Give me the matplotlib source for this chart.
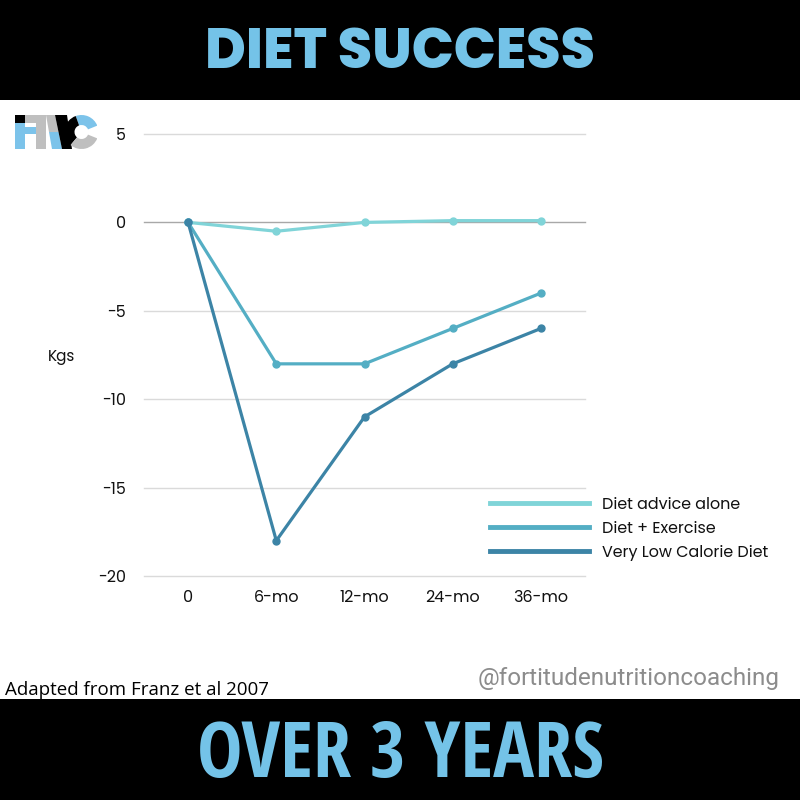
import matplotlib
matplotlib.use("Agg")
import matplotlib.pyplot as plt
from matplotlib import font_manager as fm
from matplotlib.patches import Rectangle, Polygon, Wedge

categories = ["0", "6-mo", "12-mo", "24-mo", "36-mo"]
diet_advice = [0, -0.5, 0, 0.1, 0.1]
diet_exercise = [0, -8, -8, -6, -4]
vlcd = [0, -18, -11, -8, -6]
series_labels = ["Diet advice alone", "Diet + Exercise", "Very Low Calorie Diet"]
y_ticks = [5, 0, -5, -10, -15, -20]
colors = ["#80D4D8", "#54AEC4", "#3C84A6"]

_wmap = {"normal": 400, "regular": 400, "bold": 700, "medium": 500, "light": 300,
         "black": 900, "heavy": 900, "semibold": 600, "extra bold": 800}

def _w(f):
    w = f.weight
    if isinstance(w, str):
        return _wmap.get(w.lower(), 400)
    return int(w)

def pick(cands, lo=0, hi=1000):
    for c in cands:
        for f in fm.fontManager.ttflist:
            if f.name == c and lo <= _w(f) <= hi:
                return c
    return "DejaVu Sans"

title_font = pick(["League Spartan", "Montserrat", "Poppins", "Lato"], 700)
cond_font = pick(["Open Sans Condensed", "Oswald", "PT Sans Narrow",
                  "IBM Plex Sans Condensed"], 700)
tick_font = pick(["Montserrat", "Poppins", "Raleway", "DejaVu Sans"], 400, 500)
foot_font = pick(["Open Sans", "DejaVu Sans"], 400, 500)
handle_font = pick(["Roboto", "DejaVu Sans"], 400, 500)

W = H = 800
fig = plt.figure(figsize=(8, 8), dpi=100)
fig.patch.set_facecolor("white")

def fx(px):
    return px / W
def fy(py):
    return 1 - py / H

fig.patches.append(Rectangle((0, fy(100)), 1, 100 / H, transform=fig.transFigure,
                             facecolor="black", edgecolor="none", zorder=0))
fig.patches.append(Rectangle((0, 0), 1, 101 / H, transform=fig.transFigure,
                             facecolor="black", edgecolor="none", zorder=0))
title_col = "#74C3E8"
t1 = fig.text(0.5, fy(54), "DIET SUCCESS", ha="center", va="center", color=title_col,
              fontsize=46, fontweight="heavy", family=[title_font, "DejaVu Sans"])
t2 = fig.text(0.5, fy(757), "OVER 3 YEARS", ha="center", va="center", color=title_col,
              fontsize=54, fontweight="bold", fontstretch="condensed",
              family=[cond_font, "DejaVu Sans"])

fig.canvas.draw()
r = fig.canvas.get_renderer()
for t, target in ((t1, 390), (t2, 407)):
    wpx = t.get_window_extent(r).width
    t.set_fontsize(t.get_fontsize() * target / wpx)

ax = fig.add_axes([fx(144), fy(576), 441 / W, (576 - 134) / H])
x = list(range(len(categories)))
for vals, c, lab in zip([diet_advice, diet_exercise, vlcd], colors, series_labels):
    ax.plot(x, vals, color=c, lw=2.3, marker="o", ms=5, label=lab, zorder=3,
            clip_on=False)
ax.set_xlim(-0.5, 4.5)
ax.set_ylim(-20, 5)
ax.set_yticks(y_ticks)
ax.set_yticklabels([str(t) for t in y_ticks])
ax.set_xticks(x)
ax.set_xticklabels(categories)
for t in y_ticks:
    ax.axhline(t, color="#A8A8A8" if t == 0 else "#DADADA", lw=1.0, zorder=1,
               clip_on=False)
for s in ax.spines.values():
    s.set_visible(False)
ax.tick_params(length=0, labelsize=11.5, colors="#111111", pad=13)
ax.tick_params(axis="x", pad=10)
for lbl in ax.get_xticklabels() + ax.get_yticklabels():
    lbl.set_family([tick_font, "DejaVu Sans"])

leg = ax.legend(loc="upper left", bbox_to_anchor=(fx(490), fy(497)),
                bbox_transform=fig.transFigure, frameon=False,
                prop={"family": [tick_font, "DejaVu Sans"], "size": 11.5},
                handlelength=6.2, handletextpad=0.8, labelspacing=0.5,
                borderpad=0, borderaxespad=0)
for h in leg.get_lines():
    h.set_linewidth(3.5)
    h.set_marker("")
for tx in leg.get_texts():
    tx.set_color("#111111")

fig.text(fx(48), fy(357), "Kgs", ha="left", va="center", fontsize=11,
         family=[tick_font, "DejaVu Sans"], color="#111111")

fig.text(fx(5), fy(690), "Adapted from Franz et al 2007", ha="left", va="center",
         fontsize=13.5, family=[foot_font, "DejaVu Sans"], color="black")
fig.text(fx(780), fy(678), "@fortitudenutritioncoaching", ha="right", va="center",
         fontsize=17.5, family=[handle_font, "DejaVu Sans"], color="#8C8C8C")

# logo
lax = fig.add_axes([fx(15), fy(149), 82 / W, 34 / H])
lax.set_xlim(15, 97)
lax.set_ylim(149, 115)
lax.axis("off")
lb, gr, bk = "#7CC3EA", "#BFBFBF", "#000000"
lax.add_patch(Rectangle((15, 115), 10, 8, fc=bk, ec="none"))
lax.add_patch(Rectangle((15, 123), 10, 26, fc=lb, ec="none"))
lax.add_patch(Rectangle((25, 115), 11, 8, fc=gr, ec="none"))
lax.add_patch(Rectangle((36, 115), 10, 34, fc=gr, ec="none"))
lax.add_patch(Rectangle((25, 127), 11, 7, fc=lb, ec="none"))
lax.add_patch(Polygon([(46, 115), (55, 115), (58.5, 132), (49, 132)], fc=gr, ec="none"))
lax.add_patch(Polygon([(49, 132), (58.5, 132), (62, 149), (52, 149)], fc=lb, ec="none"))
lax.add_patch(Polygon([(55, 115), (67, 115), (72, 149), (62, 149)], fc=bk, ec="none"))
cx, cy, rr, wdt = 81.5, 132, 17, 10
lax.add_patch(Wedge((cx, cy), rr, -110, -22, width=wdt, fc=lb, ec="none"))
lax.add_patch(Wedge((cx, cy), rr, -230, -110, width=wdt, fc=bk, ec="none"))
lax.add_patch(Wedge((cx, cy), rr, -338, -230, width=wdt, fc=gr, ec="none"))

fig.savefig("out.png", dpi=100, facecolor="white")
